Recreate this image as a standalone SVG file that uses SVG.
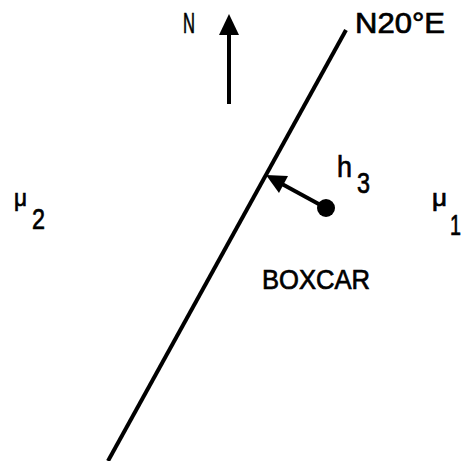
<svg xmlns="http://www.w3.org/2000/svg" width="465" height="461" viewBox="0 0 465 461">
<style>
text{font-family:"Liberation Sans","DejaVu Sans",sans-serif;fill:#000;stroke:#000;stroke-width:0.7}
.l{stroke:#000;stroke-width:4;fill:none;stroke-linecap:butt}
</style>
<rect width="465" height="461" fill="#fff"/>
<g id="connectors">
<line id="fault" class="l" x1="346" y1="30" x2="108" y2="461"/>
<g id="north-arrow">
<line class="l" x1="229" y1="32" x2="229" y2="104"/>
<path d="M229,14 L239,35 L219,35 z" fill="#000"/>
</g>
<g id="h3-arrow">
<line class="l" x1="326" y1="208" x2="282" y2="184"/>
<path d="M266,175 L288,176 L279,193 z" fill="#000"/>
</g>
</g>
<g id="node-N"><text x="183" y="33" font-size="29" textLength="12" lengthAdjust="spacingAndGlyphs">N</text></g>
<g id="node-N20E"><text x="355" y="33" font-size="29" textLength="90" lengthAdjust="spacingAndGlyphs">N20°E</text></g>
<g id="node-h3">
<circle cx="326" cy="208" r="9" fill="#000"/>
<text x="337" y="177" font-size="30" textLength="15" lengthAdjust="spacingAndGlyphs">h</text>
<text x="357" y="193" font-size="29" textLength="13" lengthAdjust="spacingAndGlyphs">3</text>
</g>
<g id="node-mu2">
<text x="14" y="206" font-size="24" textLength="13" lengthAdjust="spacingAndGlyphs">μ</text>
<text x="32" y="229" font-size="29" textLength="13" lengthAdjust="spacingAndGlyphs">2</text>
</g>
<g id="node-mu1">
<text x="432" y="206" font-size="24" textLength="15" lengthAdjust="spacingAndGlyphs">μ</text>
<text x="450" y="235" font-size="29" textLength="11" lengthAdjust="spacingAndGlyphs">1</text>
</g>
<g id="node-boxcar"><text x="262" y="289" font-size="27" textLength="108" lengthAdjust="spacingAndGlyphs">BOXCAR</text></g>
</svg>
